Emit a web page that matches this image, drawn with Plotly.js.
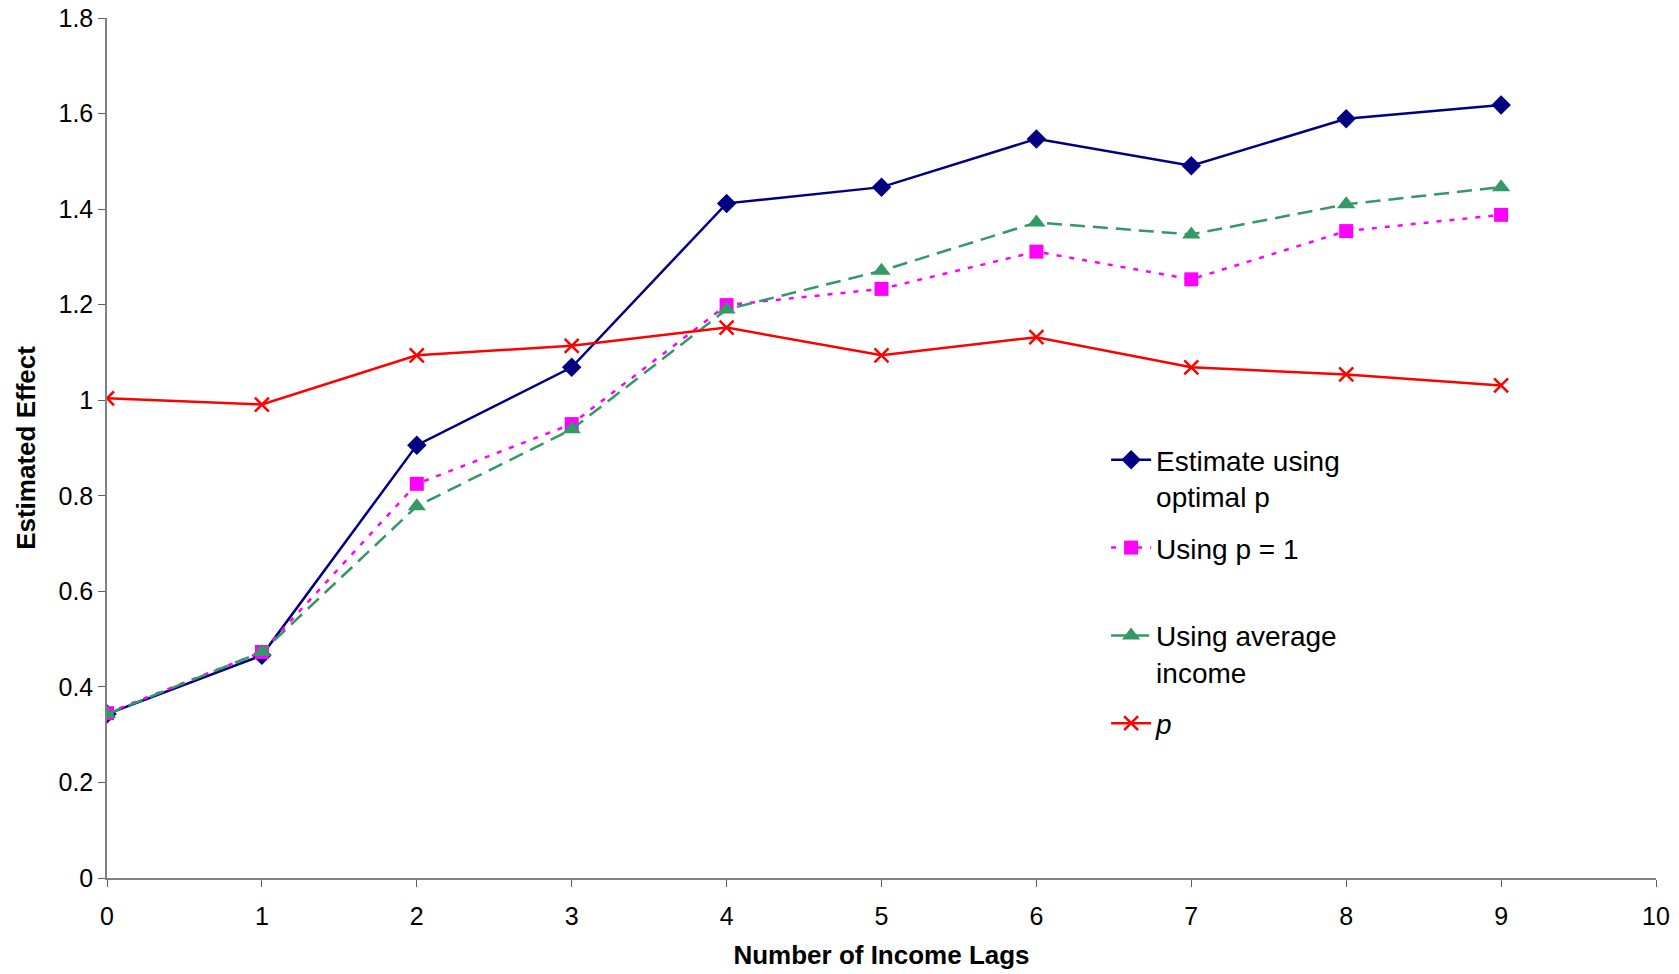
<!DOCTYPE html>
<html><head><meta charset="utf-8">
<script src="https://cdn.plot.ly/plotly-3.0.1.min.js"></script>
<style>html,body{margin:0;padding:0;background:#fff}</style>
</head><body>
<div id="chart" style="width:1679px;height:974px"></div>
<script>
const lags = [0,1,2,3,4,5,6,7,8,9];
const optimalP = [0.343,0.466,0.906,1.069,1.412,1.446,1.547,1.491,1.589,1.618];
const pOne = [0.345,0.473,0.825,0.950,1.199,1.233,1.311,1.253,1.354,1.388];
const avgIncome = [0.343,0.473,0.778,0.939,1.190,1.271,1.372,1.347,1.410,1.446];
const pValues = [1.004,0.991,1.094,1.114,1.152,1.094,1.132,1.069,1.054,1.031];
const names = ['Estimate using<br>optimal p','Using p = 1<br> ','Using average<br>income','<i>p</i><br> '];

const traces = [
  {x:lags,y:optimalP,name:names[0],mode:'lines+markers',legendgroup:'a',
   line:{color:'#000080',width:2.5},marker:{symbol:'diamond',size:15,color:'#000080'}},
  {x:lags,y:pOne,name:names[1],mode:'lines+markers',legendgroup:'b',
   line:{color:'#FF00FF',width:2.5,dash:'5px,8px'},marker:{symbol:'square',size:14,color:'#FF00FF'}},
  {x:lags,y:avgIncome,name:names[2],mode:'lines+markers',legendgroup:'c',
   line:{color:'#339966',width:2.5,dash:'15px,8px'},marker:{symbol:'triangle-up',size:16,color:'#339966'}},
  {x:lags,y:pValues,name:names[3],mode:'lines+markers',legendgroup:'d',
   line:{color:'#FF0000',width:2.5},marker:{symbol:'x-thin',size:14,line:{color:'#FF0000',width:2.5},color:'#FF0000'}}
];
const layout = {
  width:1679,height:974,
  margin:{l:107,r:23,t:18,b:96},
  paper_bgcolor:'#fff',plot_bgcolor:'#fff',
  font:{family:'Liberation Sans, Arial, sans-serif',color:'#000'},
  showlegend:true,
  legend:{x:0.645,y:0.515,xanchor:'left',yanchor:'top',valign:'top',font:{size:28,color:'#000'},
    bgcolor:'rgba(0,0,0,0)',tracegroupgap:12,itemwidth:40},
  xaxis:{range:[0,10],dtick:1,tick0:0,showgrid:false,zeroline:false,showline:true,automargin:false,
    linecolor:'#808080',linewidth:1.5,ticks:'outside',ticklen:7,tickcolor:'#606060',ticklabelstandoff:8,
    tickfont:{size:25},title:{text:'<b>Number of Income Lags</b>',font:{size:26},standoff:17}},
  yaxis:{range:[0,1.8],dtick:0.2,showgrid:false,zeroline:false,showline:true,automargin:false,
    linecolor:'#808080',linewidth:1.5,ticks:'outside',ticklen:7,tickcolor:'#606060',
    tickfont:{size:25},title:{text:'<b>Estimated Effect</b>',font:{size:26},standoff:15}}
};
Plotly.newPlot('chart',traces,layout,{displayModeBar:false});
</script>
</body></html>
